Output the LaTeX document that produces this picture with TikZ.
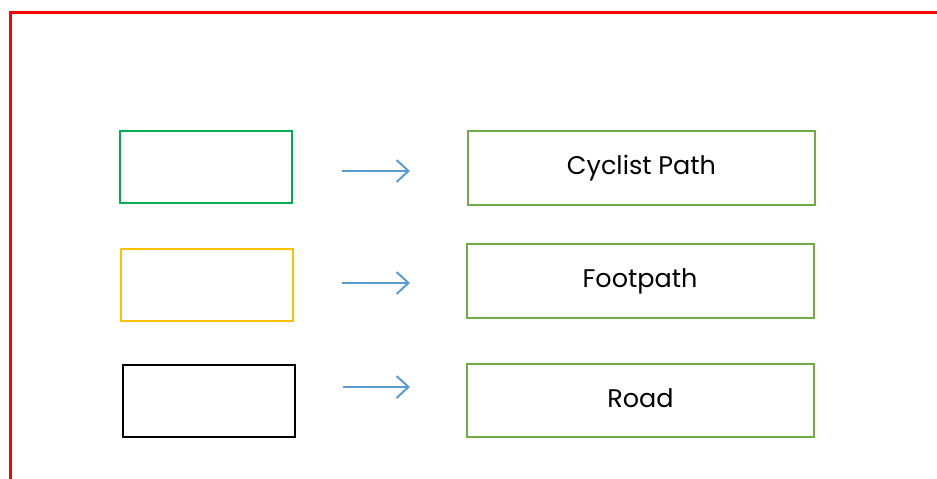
\documentclass[tikz,border=0pt]{standalone}
\usepackage{fontspec}
\setmainfont{Poppins}
\usetikzlibrary{arrows.meta}
\definecolor{officegreen}{HTML}{70AD47}
\definecolor{brightgreen}{HTML}{00B050}
\definecolor{amber}{HTML}{FFC000}
\definecolor{arrowblue}{HTML}{5B9BD5}

\begin{document}
\begin{tikzpicture}[x=1pt, y=-1pt,
  keybox/.style = {shape=rectangle, draw, line width=2pt,
    minimum width=172pt, minimum height=72pt, inner sep=0pt},
  namebox/.style = {shape=rectangle, draw=officegreen, line width=2pt,
    minimum width=347pt, minimum height=74pt, inner sep=0pt,
    font=\fontsize{25.5}{29}\selectfont},
  pointer/.style = {draw=arrowblue, line width=2pt,
    -{Straight Barb[length=12pt, width=22pt, line width=2pt]}}]
  \useasboundingbox (0,0) rectangle (937,479);
  % red frame
  \draw[red, line width=3pt] (10,479) -- (10,12) -- (937,12);
  % colour keys
  \node[keybox, draw=brightgreen] (kcycle) at (206,167) {};
  \node[keybox, draw=amber] (kfoot) at (207,284.5) {};
  \node[keybox, draw=black] (kroad) at (209,401) {};
  % names
  \node[namebox] (ncycle) at (641.5,168) {\raisebox{4pt}{Cyclist Path}};
  \node[namebox] (nfoot) at (640,281) {\raisebox{4pt}{Footpath}};
  \node[namebox, minimum height=73pt] (nroad) at (640.5,400.5) {\raisebox{4pt}{Road}};
  % arrows
  \coordinate (acs) at (342,171); \coordinate (ace) at (410,171);
  \coordinate (afs) at (342,283); \coordinate (afe) at (410,283);
  \coordinate (ars) at (343,387); \coordinate (are) at (410,387);
  \draw[pointer] (acs) -- (ace);
  \draw[pointer] (afs) -- (afe);
  \draw[pointer] (ars) -- (are);
\end{tikzpicture}
\end{document}
